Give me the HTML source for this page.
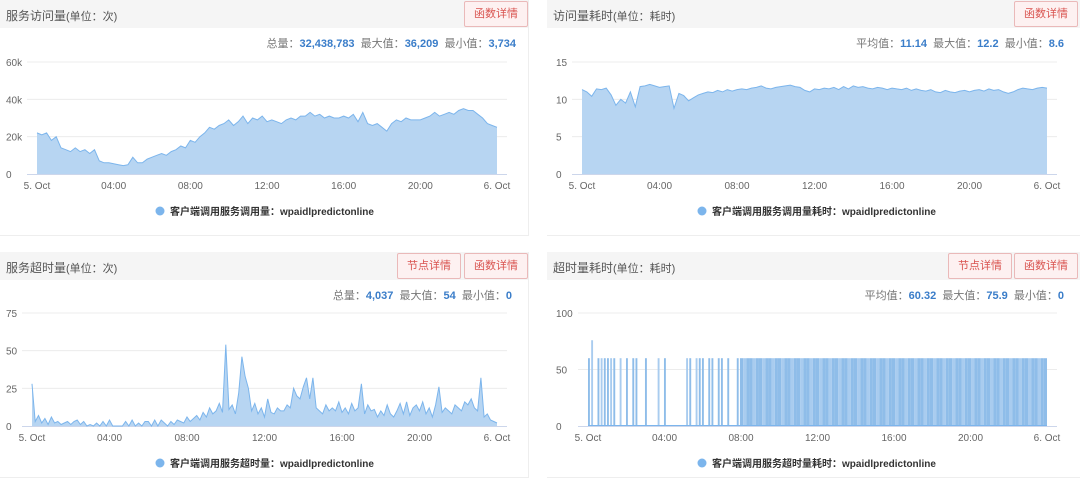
<!DOCTYPE html>
<html><head><meta charset="utf-8">
<style>
body{margin:0;width:1080px;height:477px;background:#fff;font-family:"Liberation Sans","Noto Sans CJK SC",sans-serif;position:relative;overflow:hidden}
.panel{position:absolute;background:#fff;border-right:1px solid #eee;border-bottom:1px solid #eee}
.hdr{position:absolute;left:0;right:0;top:0;height:28px;background:#f5f5f5}
.title{position:absolute;left:6px;top:7px;font-size:12px;color:#555}
.title span{font-size:11px}
.btn{position:absolute;top:1px;width:62px;height:24px;border:1px solid #eab9b9;background:#fdf1f1;color:#d9534f;font-size:11px;line-height:24px;text-align:center;border-radius:2px}
.stats{position:absolute;font-size:11px;color:#777;text-align:right}
.stats b{color:#3a7dc9}
svg{position:absolute;left:0;top:0}
</style></head><body>
<div class="panel" style="left:0;top:0;width:528px;height:235px">
 <div class="hdr"><div class="title">服务访问量<span>(单位：次)</span></div>
 <div class="btn" style="left:464px">函数详情</div></div>
 <div class="stats" style="right:12px;top:35px">总量：<b>32,438,783</b>&nbsp; 最大值：<b>36,209</b>&nbsp; 最小值：<b>3,734</b></div>
</div>
<div class="panel" style="left:547px;top:0;width:533px;height:235px">
 <div class="hdr"><div class="title">访问量耗时<span>(单位：耗时)</span></div>
 <div class="btn" style="left:467px">函数详情</div></div>
 <div class="stats" style="right:16px;top:35px">平均值：<b>11.14</b>&nbsp; 最大值：<b>12.2</b>&nbsp; 最小值：<b>8.6</b></div>
</div>
<div class="panel" style="left:0;top:252px;width:528px;height:225px">
 <div class="hdr"><div class="title">服务超时量<span>(单位：次)</span></div>
 <div class="btn" style="left:397px">节点详情</div>
 <div class="btn" style="left:464px">函数详情</div></div>
 <div class="stats" style="right:16px;top:35px">总量：<b>4,037</b>&nbsp; 最大值：<b>54</b>&nbsp; 最小值：<b>0</b></div>
</div>
<div class="panel" style="left:547px;top:252px;width:533px;height:225px">
 <div class="hdr"><div class="title">超时量耗时<span>(单位：耗时)</span></div>
 <div class="btn" style="left:401px">节点详情</div>
 <div class="btn" style="left:467px">函数详情</div></div>
 <div class="stats" style="right:16px;top:35px">平均值：<b>60.32</b>&nbsp; 最大值：<b>75.9</b>&nbsp; 最小值：<b>0</b></div>
</div>
<svg id="chart" width="1080" height="477"></svg>
<script>
const xTickLabels=["5. Oct","04:00","08:00","12:00","16:00","20:00","6. Oct"];
const visitsTicks=["0","20k","40k","60k"];
const visitsTickValues=[0,20,40,60];
const visitsK=[22,21,22,18,20,14,13,12,14,12,13,11,13,7,6,6,5.5,5,4.5,5,9,6,6,8,9,10,11,10,12,13,15,14,18,17,20,22,25,24,26,27,29,26,28,31,27,30,29,31,28,29,28,27,29,30,29,31,31,33,31,32,30,31,30,30,31,30,32,28,33,27,26,27,25,23,27,29,28,30,29,29,29,30,31,33,31,32,33,32,34,35,34,34,32,30,27,26,25];
const latencyTicks=["0","5","10","15"];
const latencyTickValues=[0,5,10,15];
const latency=[11.3,11.0,10.4,11.4,11.3,11.5,10.6,9.2,10.0,9.5,11.0,9.0,11.7,11.8,12.0,11.8,11.6,11.7,11.8,8.8,10.8,10.5,9.8,10.2,10.6,10.8,11.0,10.9,11.2,11.0,11.3,11.1,11.3,11.4,11.3,11.5,11.6,11.8,11.5,11.4,11.6,11.7,11.8,11.9,11.7,11.6,11.2,11.0,11.4,11.3,11.5,11.4,11.6,11.3,11.7,11.4,11.8,11.6,11.7,11.5,11.4,11.6,11.5,11.3,11.5,11.4,11.3,11.5,11.2,11.4,11.2,11.1,11.3,11.0,10.9,11.2,11.0,10.9,11.1,11.2,11.0,11.2,11.3,11.1,11.4,11.2,11.3,11.0,10.8,11.0,11.3,11.5,11.4,11.3,11.5,11.6,11.5];
const timeoutTicks=["0","25","50","75"];
const timeoutTickValues=[0,25,50,75];
const timeouts=[28,3,7,2,5,1, 6,2,3,1,2,3, 1,3,4,1,3,0, 1,0,2,0,3,0, 4,0,0,0,0,3, 0,4,0,2,0,3, 3,0,4,0,4,2, 0,3,1,4,3,2, 6,3,5,7,4,9, 6,12,8,10,15,9, 54,11,14,8,22,46, 33,25,10,15,8,12, 6,18,9,8,12,10, 10,14,12,25,20,18, 26,32,18,32,12,10, 8,14,10,12,10,16, 9,12,8,15,10,12, 28,8,14,10,11,6, 10,7,14,8,6,10, 15,8,16,7,12,14, 10,16,8,12,6,14, 26,9,12,10,8,14, 12,10,16,14,18,12, 10,32,6,8,4,3, 2];
const toLatTicks=["0","50","100"];
const toLatTickValues=[0,50,100];
const toLatency=[60,75.9,0,60,60,60, 60,60,60,0,60,0, 60,0,60,60,0,0, 60,0,0,0,60,0, 60,0,0,0,0,0, 0,60,60,0,60,60, 60,0,60,60,0,60, 60,0,60,0,0,60,
60,60,60,60,60,60, 60,60,60,60,60,60, 60,60,60,60,60,60, 60,60,60,60,60,60, 60,60,60,60,60,60, 60,60,60,60,60,60, 60,60,60,60,60,60, 60,60,60,60,60,60,
60,60,60,60,60,60, 60,60,60,60,60,60, 60,60,60,60,60,60, 60,60,60,60,60,60, 60,60,60,60,60,60, 60,60,60,60,60,60, 60,60,60,60,60,60, 60,60,60,60,60,60, 60];
const NS="http://www.w3.org/2000/svg";
const svg=document.getElementById('chart');
function mk(tag,attrs){const e=document.createElementNS(NS,tag);for(const k in attrs)e.setAttribute(k,attrs[k]);svg.appendChild(e);return e;}
function axes(cfg,ticks,tickVals,ymax,legend,name){
  const x=i=>cfg.x0+(cfg.x1-cfg.x0)*i/6;
  const y=v=>cfg.y0-(cfg.y0-cfg.y1)*v/ymax;
  tickVals.forEach((v,i)=>{
    if(v>0){const g=mk('line',{x1:cfg.x0-10,x2:cfg.x1+10,y1:y(v),y2:y(v),stroke:'#ececec','stroke-width':1});
    
    }
    const t=mk('text',{x:cfg.lx,y:y(v)+4,'font-size':10,fill:'#666'});t.textContent=ticks[i];
    
    
  });
  const b=mk('line',{x1:cfg.x0-10,x2:cfg.x1+10,y1:cfg.y0+0.5,y2:cfg.y0+0.5,stroke:'#ccd6eb'});
  
  
  xTickLabels.forEach((l,i)=>{
    const t=mk('text',{x:x(i),y:cfg.y0+15,'font-size':10,fill:'#666','text-anchor':'middle'});t.textContent=l;
    
    
  });
  const c=mk('circle',{cx:cfg.lgx,cy:cfg.y0+37,r:4.5,fill:'#7cb5ec'});
  
  
  const lt=mk('text',{x:cfg.lgx+10,y:cfg.y0+41,'font-size':10,'font-weight':'bold',fill:'#333'});lt.textContent=legend;
  
  
  return {y};
}
function area(cfg,data,ymax,name){
  const n=data.length-1;
  const X=i=>cfg.x0+(cfg.x1-cfg.x0)*i/n;
  const Y=v=>cfg.y0-(cfg.y0-cfg.y1)*v/ymax;
  let d='';data.forEach((v,i)=>{d+=(i?'L':'M')+X(i).toFixed(1)+','+Y(v).toFixed(1);});
  const a=mk('path',{d:d+'L'+cfg.x1+','+cfg.y0+'L'+cfg.x0+','+cfg.y0+'Z',fill:'#b7d5f2'});
  
  
  const l=mk('path',{d:d,fill:'none',stroke:'#7cb5ec','stroke-width':1});
  
  
}
function bars(cfg,data,ymax,name){
  const n=data.length;
  const w=(cfg.x1-cfg.x0)/n;
  const Y=v=>cfg.y0-(cfg.y0-cfg.y1)*v/ymax;
  data.forEach((v,i)=>{
    if(v<=0)return;
    const r=mk('rect',{x:cfg.x0+i*w,y:Y(v),width:Math.max(1,w*(i<48?0.6:1)),height:cfg.y0-Y(v),fill:(i%3==1)?'#a9ccef':'#8fbde9'});
    
    
  });
  const base=mk('line',{x1:cfg.x0,x2:cfg.x1,y1:cfg.y0-0.5,y2:cfg.y0-0.5,stroke:'#7cb5ec'});
  
  
}
const c1={x0:37,x1:497,y0:174,y1:62,lx:6,lgx:160};
const c2={x0:582,x1:1047,y0:174,y1:62,lx:556,lgx:702};
const c3={x0:32,x1:497,y0:426,y1:313,lx:6,lgx:160};
const c4={x0:588,x1:1047,y0:426,y1:313,lx:556,lgx:702};
axes(c1,visitsTicks,visitsTickValues,60,'客户端调用服务调用量：wpaidlpredictonline','visits');
area(c1,visitsK,60,'visits');
axes(c2,latencyTicks,latencyTickValues,15,'客户端调用服务调用量耗时：wpaidlpredictonline','latency');
area(c2,latency,15,'latency');
axes(c3,timeoutTicks,timeoutTickValues,75,'客户端调用服务超时量：wpaidlpredictonline','timeouts');
area(c3,timeouts,75,'timeouts');
axes(c4,toLatTicks,toLatTickValues,100,'客户端调用服务超时量耗时：wpaidlpredictonline','timeout-latency');
bars(c4,toLatency,100,'timeout-latency');
</script>
</body></html>
